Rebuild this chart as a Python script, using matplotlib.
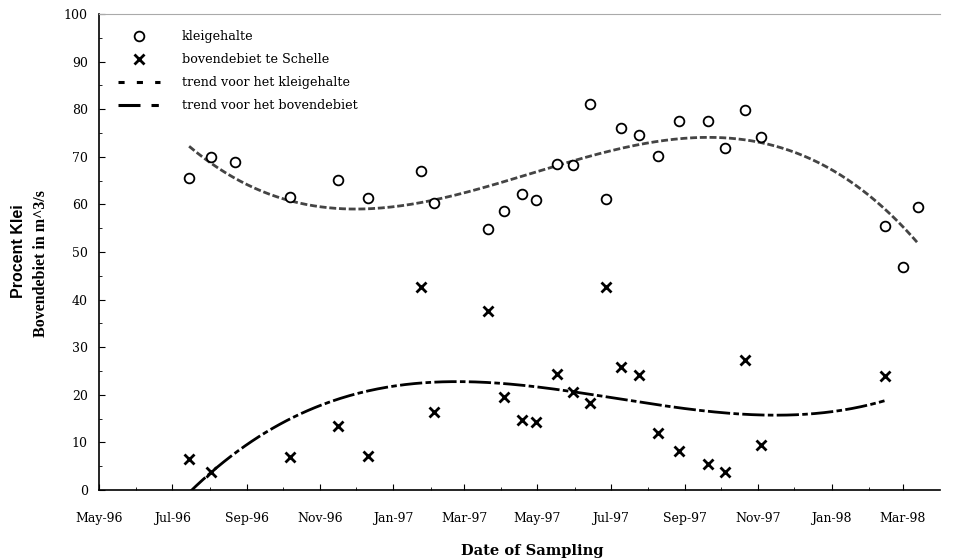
import matplotlib
matplotlib.use("Agg")
import matplotlib.pyplot as plt
import matplotlib.dates as mdates
from matplotlib.lines import Line2D
import numpy as np
import datetime as dt

# sampling dates
dates = ["1996-07-15", "1996-08-02", "1996-08-22", "1996-10-07", "1996-11-16",
         "1996-12-11", "1997-01-24", "1997-02-04", "1997-03-21", "1997-04-03",
         "1997-04-18", "1997-04-30", "1997-05-17", "1997-05-31", "1997-06-14",
         "1997-06-27", "1997-07-10", "1997-07-25", "1997-08-09", "1997-08-27",
         "1997-09-20", "1997-10-04", "1997-10-21", "1997-11-03", "1998-02-14",
         "1998-03-01", "1998-03-14"]
# clay content (%)
klei = [65.5, 70.0, 69.0, 61.5, 65.1, 61.4, 67.0, 60.3, 54.8, 58.6,
        62.2, 60.9, 68.5, 68.3, 81.1, 61.1, 76.1, 74.6, 70.2, 77.5,
        77.5, 71.8, 79.8, 74.2, 55.5, 46.9, 59.4]
# upstream discharge at Schelle (m^3/s)
debiet = [6.5, 3.8, None, 6.9, 13.4, 7.1, 42.6, 16.4, 37.6, 19.5,
          14.7, 14.3, 24.4, 20.6, 18.3, 42.6, 25.8, 24.2, 12.0, 8.2,
          5.5, 3.8, 27.3, 9.5, 24.0, None, None]

tick_labels = ["May-96", "Jul-96", "Sep-96", "Nov-96", "Jan-97", "Mar-97",
               "May-97", "Jul-97", "Sep-97", "Nov-97", "Jan-98", "Mar-98"]

plt.rcParams['font.family'] = ['DejaVu Serif', 'Liberation Serif']

d = [dt.datetime.strptime(s, "%Y-%m-%d") for s in dates]
xn = mdates.date2num(d)
kl = np.array(klei, dtype=float)
db = np.array([np.nan if v is None else v for v in debiet], dtype=float)

fig = plt.figure(figsize=(9.56, 5.6), dpi=100)
ax = fig.add_axes([0.1036, 0.125, 0.8794, 0.85])

# trend lines: 3rd order polynomial fits (as in the source spreadsheet)
x0 = xn[0]
ck = np.polyfit(xn - x0, kl, 3)
xs_k = np.linspace(xn[0], xn[-1], 300)
ax.plot(xs_k, np.polyval(ck, xs_k - x0), color='#444444', lw=2.0,
        linestyle=(0, (2.5, 1.0)), zorder=2)

m = ~np.isnan(db)
cd = np.polyfit(xn[m] - x0, db[m], 3)
xs_d = np.linspace(xn[m][0], xn[m][-1], 300)
ax.plot(xs_d, np.polyval(cd, xs_d - x0), color='black', lw=2.0,
        linestyle=(0, (8, 1.2, 2, 1.2)), zorder=2)

ax.plot(xn, kl, linestyle='none', marker='o', ms=7, mfc='white', mec='black',
        mew=1.3, zorder=3)
ax.plot(xn[m], db[m], linestyle='none', marker='x', ms=6.5, color='black',
        mew=2.0, zorder=3)

ax.set_ylim(0, 100)
ax.set_yticks(np.arange(0, 101, 10))
ax.set_yticks(np.arange(5, 100, 10), minor=True)
ax.set_xlim(mdates.date2num(dt.datetime(1996, 5, 1)), mdates.date2num(dt.datetime(1998, 4, 1)))
major = [mdates.date2num(dt.datetime.strptime(t, "%b-%y")) for t in tick_labels]
ax.set_xticks(major)
ax.set_xticklabels(tick_labels)
minor = [mdates.date2num(dt.datetime(1996 + (4 + k) // 12, (4 + k) % 12 + 1, 1)) for k in range(1, 23, 2)]
ax.set_xticks(minor, minor=True)

ax.tick_params(axis='both', which='both', direction='in', labelsize=9)
ax.tick_params(axis='both', which='major', length=4, width=0.8)
ax.tick_params(axis='both', which='minor', length=2.5, width=0.6)
ax.tick_params(axis='x', pad=16)
ax.tick_params(axis='y', pad=8)

for s in ['left', 'bottom']:
    ax.spines[s].set_linewidth(1.2)
ax.spines['top'].set_color('#aaaaaa')
ax.spines['top'].set_linewidth(0.8)
ax.spines['top'].set_linestyle((0, (3, 1)))
ax.spines['right'].set_visible(False)

ax.set_xlabel("Date of Sampling", fontsize=10.5, fontweight='bold')
ax.xaxis.set_label_coords(0.515, -0.114)
fig.text(0.019, 0.552, "Procent Klei", rotation=90, ha='center', va='center',
         fontsize=11.5, fontweight='bold', family=['Liberation Sans', 'DejaVu Sans'])
fig.text(0.043, 0.529, "Bovendebiet in m^3/s", rotation=90, ha='center', va='center',
         fontsize=11.5, fontweight='bold', family=['Liberation Serif', 'DejaVu Serif'])

handles = [
    Line2D([], [], linestyle='none', marker='o', ms=7, mfc='white', mec='black', mew=1.3),
    Line2D([], [], linestyle='none', marker='x', ms=6.5, color='black', mew=2.0),
    Line2D([], [], color='black', lw=2.2, linestyle=(0, (2, 4))),
    Line2D([], [], color='black', lw=2.2, linestyle=(0, (7.2, 3.6, 2.4, 3.6))),
]
labels = ['kleigehalte', 'bovendebiet te Schelle', 'trend voor het kleigehalte',
          'trend voor het bovendebiet']
ax.legend(handles, labels, loc='upper left', bbox_to_anchor=(0.012, 0.985),
          frameon=False, fontsize=9.2, handlelength=3.3, handletextpad=1.7,
          labelspacing=0.78, borderaxespad=0.3)

fig.savefig("out.png", dpi=100)
